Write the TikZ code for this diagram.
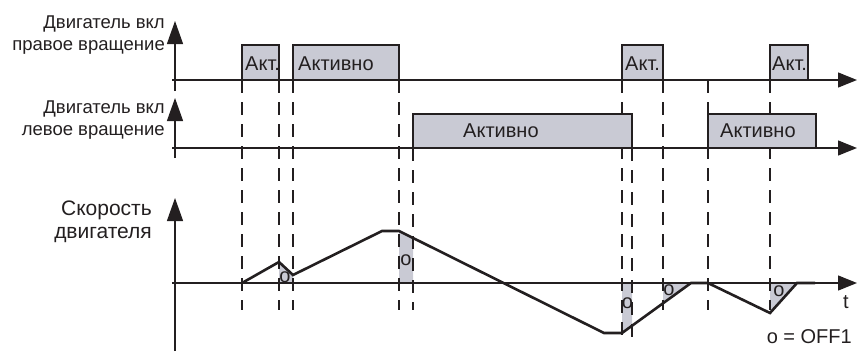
\documentclass[tikz,border=0pt]{standalone}
\usepackage{fontspec}
\setmainfont{Liberation Sans}
\usetikzlibrary{arrows.meta}
\definecolor{ink}{RGB}{35,31,32}
\definecolor{boxfill}{RGB}{201,202,212}
\begin{document}
\begin{tikzpicture}[x=1pt,y=-1pt,
  vaxis/.style={draw=ink, line width=1.3pt, -{Triangle[length=23pt,width=16pt]}},
  haxis/.style={draw=ink, line width=1.3pt, -{Triangle[length=19pt,width=15pt]}},
  guide/.style={draw=ink, line width=1.5pt, dash pattern=on 13pt off 9pt},
  pulse/.style={draw=ink, line width=1.3pt, fill=boxfill},
  shade/.style={fill=boxfill, draw=none},
  speed/.style={draw=ink, line width=2.6pt, line join=miter},
  lbl/.style={text=ink, inner sep=0pt, font=\fontsize{18.5}{21}\selectfont},
  big/.style={text=ink, inner sep=0pt, font=\fontsize{21}{24}\selectfont},
  btxt/.style={text=ink, inner sep=0pt, anchor=base west, font=\fontsize{20}{24}\selectfont},
  off/.style={text=ink, inner sep=0pt, font=\fontsize{20}{24}\selectfont},
]
\useasboundingbox (0,0) rectangle (857,351);

% shaded OFF1 regions
\fill[shade] (279,283) -- (279,262) -- (293,275) -- (293,283) -- cycle;
\fill[shade] (399,283) -- (399,231) -- (413,238) -- (413,283) -- cycle;
\fill[shade] (622,283) -- (622,333) -- (632,325.8) -- (632,283) -- cycle;
\fill[shade] (663,283) -- (663,303.3) -- (691,283) -- cycle;
\fill[shade] (770,283) -- (770,313) -- (797,283) -- cycle;

% guide lines
\coordinate (g1a) at (242,80);  \coordinate (g1b) at (242,310);
\coordinate (g2a) at (279,80);  \coordinate (g2b) at (279,310);
\coordinate (g3a) at (293,80);  \coordinate (g3b) at (293,310);
\coordinate (g4a) at (399,80);  \coordinate (g4b) at (399,310);
\coordinate (g5a) at (413,148); \coordinate (g5b) at (413,310);
\coordinate (g6a) at (622,80);  \coordinate (g6b) at (622,340);
\coordinate (g7a) at (632,148); \coordinate (g7b) at (632,340);
\coordinate (g8a) at (663,80);  \coordinate (g8b) at (663,310);
\coordinate (g9a) at (708,80);  \coordinate (g9b) at (708,310);
\coordinate (g10a) at (770,80); \coordinate (g10b) at (770,310);
\foreach \i in {1,...,10} { \draw[guide] (g\i a) -- (g\i b); }

% pulses
\draw[pulse] (242,80) rectangle (279,45);
\draw[pulse] (293,80) rectangle (399,45);
\draw[pulse] (622,80) rectangle (663,45);
\draw[pulse] (770,80) rectangle (808,45);
\draw[pulse] (413,148) rectangle (632,114);
\draw[pulse] (708,148) rectangle (816,114);

% axes
\coordinate (v1s) at (175,91);  \coordinate (v1e) at (175,21);
\coordinate (v2s) at (175,158); \coordinate (v2e) at (175,98);
\coordinate (v3s) at (175,351); \coordinate (v3e) at (175,198);
\coordinate (h1s) at (172,80);  \coordinate (h1e) at (857,80);
\coordinate (h2s) at (172,148); \coordinate (h2e) at (857,148);
\coordinate (h3s) at (172,283); \coordinate (h3e) at (857,283);
\draw[vaxis] (v1s) -- (v1e);
\draw[vaxis] (v2s) -- (v2e);
\draw[vaxis] (v3s) -- (v3e);
\draw[haxis] (h1s) -- (h1e);
\draw[haxis] (h2s) -- (h2e);
\draw[haxis] (h3s) -- (h3e);

% speed curve
\draw[speed] (242,283) -- (279,262) -- (293,275) -- (382,231) -- (399,231)
  -- (604,333) -- (622,333) -- (691,283) -- (708,283) -- (770,313)
  -- (797,283) -- (815,283);

% box texts
\node[btxt] (t1) at (245,70) {Акт.};
\node[btxt] (t2) at (298,70) {Активно};
\node[btxt] (t3) at (625,70) {Акт.};
\node[btxt] (t4) at (772,70) {Акт.};
\node[btxt] (t5) at (463,137) {Активно};
\node[btxt] (t6) at (720,137) {Активно};

% OFF1 marks
\node[off] (o1) at (285,277) {o};
\node[off] (o2) at (406,260) {o};
\node[off] (o3) at (627.5,303) {o};
\node[off] (o4) at (669,290) {o};
\node[off] (o5) at (779,291) {o};

% axis labels
\node[lbl, anchor=base east] (l1a) at (165,28.5) {Двигатель вкл};
\node[lbl, anchor=base east] (l1b) at (165,50) {правое вращение};
\node[lbl, anchor=base east] (l2a) at (165,113.5) {Двигатель вкл};
\node[lbl, anchor=base east] (l2b) at (165,135) {левое вращение};
\node[big, anchor=base east] (l3a) at (152,215) {Скорость};
\node[big, anchor=base east] (l3b) at (152,238) {двигателя};
\node[off, anchor=base west] (tt) at (843,308) {t};
\node[off, anchor=base east] (leg) at (852,343) {o = OFF1};
\end{tikzpicture}
\end{document}
